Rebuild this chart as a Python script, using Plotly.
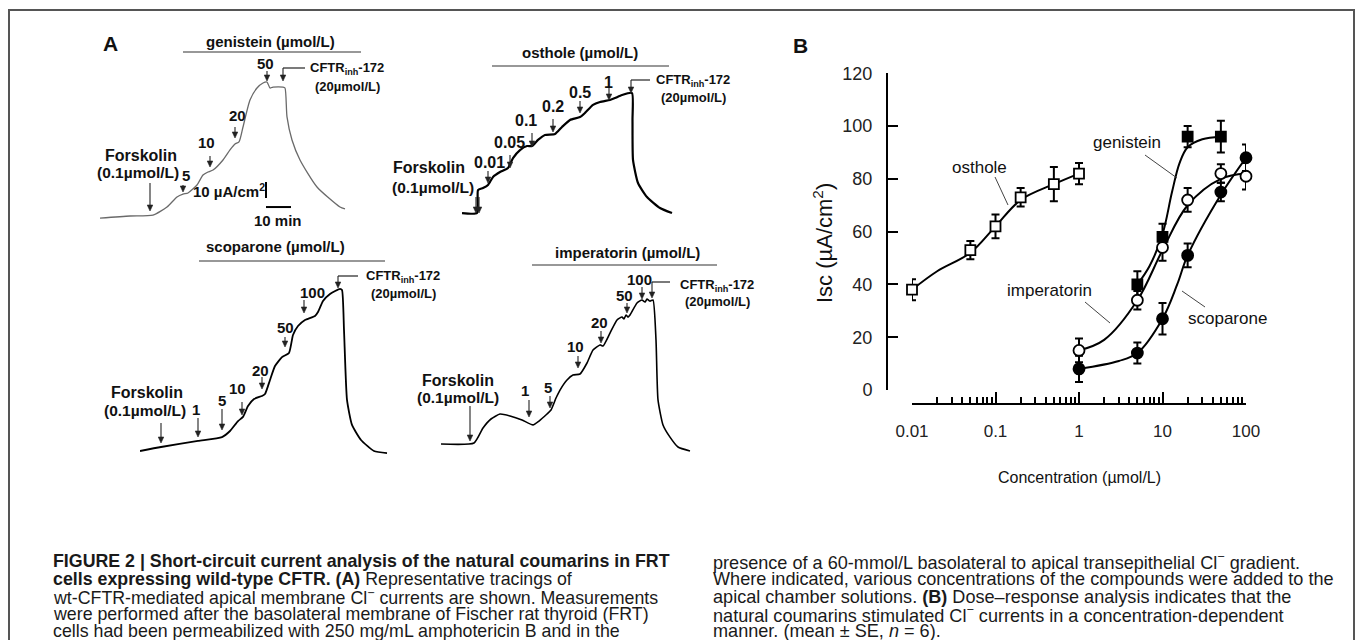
import plotly.graph_objects as go

W, H = 1356, 640

# ---------------- Panel A: Isc tracings (time in min, current in uA/cm2) ----------------
gen_t = [0, 12, 21.2, 26.8, 30.8, 33.2, 35.2, 38.8, 41.2, 43.2, 45.2, 49.2, 52, 54, 55.6, 57.2, 60, 62.8,
         65.2, 66.8, 68, 69.2, 73.2, 74, 74.8, 76.8, 80, 86.8, 96, 98]
gen_i = [1.2, 2.5, 3.1, 8.1, 14.4, 16.2, 16.9, 21.9, 28.1, 30, 31.2, 37.5, 43.8, 47.5, 48.8, 58.1, 75, 82.5,
         85.6, 86.2, 82.5, 83.1, 83.1, 82.5, 64.4, 50, 37.5, 20.6, 8.1, 6.9]

ost_t = [0, 6, 6.4, 8.4, 10.4, 12.4, 15.2, 18.4, 20.4, 23.2, 26, 28, 30.4, 33.2, 37.2, 40, 43.2, 47.2, 49.2,
         52.4, 55.2, 59.2, 61.2, 64, 68, 68.2, 68.4, 70.4, 74, 79.2, 84]
ost_i = [1.2, 1.2, 15.6, 16.9, 18.8, 23.8, 26.9, 29.4, 35.6, 40.6, 43.1, 43.1, 46.9, 50, 50.6, 55, 59.4, 61.2,
         63.8, 68.8, 70.6, 71.9, 73.1, 75, 76.2, 59.4, 34.4, 20, 11.2, 4.4, 1.2]

sco_t = [0, 8.4, 23.2, 32.8, 36, 39.2, 41.2, 43.2, 45.6, 48.8, 50, 52, 54, 56.8, 59.6, 61.2, 63.2, 66, 70,
         71.2, 73.2, 76, 80, 80.8, 81.6, 82.8, 84.8, 88.4, 93.6, 98.8]
sco_i = [2.5, 5, 8.8, 11.2, 15, 21.2, 23.8, 30.6, 35, 36.9, 38.1, 46.9, 55.6, 61.2, 63.8, 75, 80.6, 84.4, 86.9,
         89.4, 96.2, 100.6, 103.8, 103.1, 78.1, 34.4, 18.8, 9.4, 2.5, 1.2]

imp_t = [0, 13.2, 16.8, 20, 23.6, 27.6, 32.4, 36.8, 39.2, 42.4, 44, 46, 47.6, 50.4, 52.8, 55.6, 58.4, 60.8,
         63.6, 64.8, 67.6, 70.4, 72.4, 73.2, 74, 74.8, 75.6, 78.4, 80.4, 81.6, 82.4, 83.6, 84.8, 86, 86.8,
         88.8, 91.6, 94.8, 99.6]
imp_i = [6.9, 7.5, 16.9, 22.5, 25.6, 24.4, 21.9, 18.8, 21.2, 25.6, 28.1, 35.6, 40.6, 46.9, 50, 50.6, 57.5,
         65.6, 68.8, 68.1, 76.2, 84.4, 86.2, 85, 87.5, 86.2, 87.5, 95, 96.9, 95.6, 97.5, 96.2, 96.9, 71.9,
         34.4, 18.8, 11.2, 5, 2.5]

# addition times (min) : forskolin, doses..., CFTRinh-172
gen_add = [20, 33.2, 44, 54, 66.8, 73.2]
gen_doses = ["5", "10", "20", "50"]
ost_add = [5.6, 10.4, 19.2, 28, 36.4, 47.2, 58.8, 67.6]
ost_doses = ["0.01", "0.05", "0.1", "0.2", "0.5", "1"]
sco_add = [8.4, 23.2, 32.8, 40.8, 48.8, 58, 65.6, 79.2]
sco_doses = ["1", "5", "10", "20", "50", "100"]
imp_add = [11.6, 35.2, 43.6, 54.8, 64, 74.4, 80.4, 84.4]
imp_doses = ["1", "5", "10", "20", "50", "100"]

scale_current = 10   # uA/cm2
scale_time = 10      # min

# ---------------- Panel B: dose-response ----------------
ost_c = [0.01, 0.05, 0.1, 0.2, 0.5, 1]
ost_y = [38, 53, 62, 73, 78, 82]
ost_e = [4, 3.5, 4.5, 3.5, 6.5, 4]
gen_c = [5, 10, 20, 50]
gen_y = [40, 58, 96, 96]
gen_e = [5, 5, 4, 6]
imp_c = [1, 5, 10, 20, 50, 100]
imp_y = [15, 34, 54, 72, 82, 81]
imp_e = [4.5, 3.5, 5, 4.5, 3.5, 5]
sco_c = [1, 5, 10, 20, 50, 100]
sco_y = [8, 14, 27, 51, 75, 88]
sco_e = [5, 4, 6, 4.5, 3.5, 5]

# fitted curves
ost_fit_c = [0.01, 0.02, 0.05, 0.1, 0.2, 0.5, 1]
ost_fit_y = [38, 45, 52, 62, 72, 78, 82]
gen_fit_c = [5, 7, 10, 13, 16, 20, 30, 50]
gen_fit_y = [40, 47, 59, 75, 86, 92, 95, 96]
imp_fit_c = [1, 2, 5, 10, 20, 50, 100]
imp_fit_y = [15, 19, 34, 53, 70, 80, 82]
sco_fit_c = [1, 3, 5, 10, 15, 20, 50, 100]
sco_fit_y = [8, 11, 14, 27, 40, 51, 74, 88]

x_ticks = [0.01, 0.1, 1, 10, 100]
x_ticktext = ["0.01", "0.1", "1", "10", "100"]
y_ticks = [0, 20, 40, 60, 80, 100, 120]

FONT = "Arial, Liberation Sans, sans-serif"
CAP_FONT = "Liberation Sans, Arial, sans-serif"


def px(x):
    return x / W


def py(y):
    return 1 - y / H


fig = go.Figure()
ann = []
shapes = []


def txt(s, x, y, size, bold=False, xanchor="center", family=FONT, color="#111", angle=0):
    if bold:
        s = "<b>" + s + "</b>"
    ann.append(dict(text=s, x=px(x), y=py(y), xref="paper", yref="paper", showarrow=False,
                    xanchor=xanchor, yanchor="middle", textangle=angle,
                    font=dict(family=family, size=size, color=color)))


def arrow(ax, t, y_tail, y_tip, col="#222"):
    # shaft
    shapes.append(dict(type="line", xref="x" + ax, yref="paper", x0=t, x1=t, y0=py(y_tail), y1=py(y_tip - 3),
                       line=dict(color=col, width=1.1)))
    # head (x half-width 1.1 min = 2.75 px)
    path = "M {a},{b} L {c},{b} L {d},{e} Z".format(a=t - 1.1, b=py(y_tip - 6), c=t + 1.1, d=t, e=py(y_tip))
    shapes.append(dict(type="path", xref="x" + ax, yref="paper", path=path, fillcolor=col,
                       line=dict(color=col, width=0.6)))


def pline(x0, y0, x1, y1, w=1.2, c="#333"):
    shapes.append(dict(type="line", xref="paper", yref="paper", x0=px(x0), y0=py(y0), x1=px(x1), y1=py(y1),
                       line=dict(color=c, width=w)))


# ----- panel A axes (hidden) : x0 px, baseline px, current range -----
panels = {"2": (100, 220, 100), "3": (462, 215, 100), "4": (140, 455, 125), "5": (441, 455, 125)}
layout_axes = {}
for k, (x0, y0, R) in panels.items():
    layout_axes["xaxis" + k] = dict(domain=[px(x0), px(x0 + 250)], range=[0, 100], visible=False,
                                    anchor="y" + k, fixedrange=True, automargin=False, showgrid=False)
    layout_axes["yaxis" + k] = dict(domain=[py(y0), py(y0 - 1.6 * R)], range=[0, R], visible=False,
                                    anchor="x" + k, fixedrange=True, automargin=False, showgrid=False)

fig.add_trace(go.Scatter(x=gen_t, y=gen_i, xaxis="x2", yaxis="y2", mode="lines",
                         line=dict(color="#6a6a6a", width=1.3, shape="spline", smoothing=0.6), hoverinfo="skip"))
fig.add_trace(go.Scatter(x=ost_t, y=ost_i, xaxis="x3", yaxis="y3", mode="lines",
                         line=dict(color="#000", width=2.2, shape="spline", smoothing=0.5), hoverinfo="skip"))
fig.add_trace(go.Scatter(x=sco_t, y=sco_i, xaxis="x4", yaxis="y4", mode="lines",
                         line=dict(color="#000", width=1.8, shape="spline", smoothing=0.5), hoverinfo="skip"))
fig.add_trace(go.Scatter(x=imp_t, y=imp_i, xaxis="x5", yaxis="y5", mode="lines",
                         line=dict(color="#000", width=1.6, shape="spline", smoothing=0.5), hoverinfo="skip"))

# scale bars (genistein panel), in data units
shapes.append(dict(type="line", xref="x2", yref="y2", x0=66.4, x1=66.4, y0=13.75, y1=13.75 + scale_current,
                   line=dict(color="#000", width=2)))
shapes.append(dict(type="line", xref="x2", yref="y2", x0=66.4, x1=66.4 + scale_time, y0=8.1, y1=8.1,
                   line=dict(color="#000", width=2)))

# ---- genistein panel ----
txt("A", 110, 44, 21, bold=True)
txt("genistein (µmol/L)", 270, 41, 15, bold=True)
pline(183, 52, 361, 52)
txt("Forskolin", 141, 155, 16, bold=True)
txt("(0.1µmol/L)", 138, 173, 15.5, bold=True)
arrow("2", gen_add[0], 183, 211)
gpos = [(186, 175, 185, 192), (207, 143, 156, 167), (237, 115, 127, 138), (265, 64, 71, 81)]
for lbl, t, (lx, ly, a0, a1) in zip(gen_doses, gen_add[1:5], gpos):
    txt(lbl, lx, ly, 15, bold=True)
    arrow("2", t, a0, a1)
pline(283, 68, 305, 68, w=1.2, c="#222")
arrow("2", gen_add[5], 68, 81)
txt("CFTR<sub>inh</sub>-172", 347, 69, 13, bold=True)
txt("(20µmol/L)", 347, 86, 13, bold=True)
txt("10 µA/cm<sup>2</sup>", 229, 190, 15, bold=True)
txt("10 min", 278, 220, 15, bold=True)

# ---- osthole panel ----
txt("osthole (µmol/L)", 580, 53, 15, bold=True)
pline(492, 66, 669, 66)
txt("Forskolin", 429, 167, 16, bold=True)
txt("(0.1µmol/L)", 433, 187, 15.5, bold=True)
arrow("3", ost_add[0], 197, 213)
arrow("3", ost_add[0] + 1.2, 197, 213)
opos = [(489, 163, 171, 183), (510, 143, 155, 168), (526, 120, 133, 147), (553, 106, 119, 132),
        (580, 92, 101, 113), (608, 82, 88, 100)]
for lbl, t, (lx, ly, a0, a1) in zip(ost_doses, ost_add[1:7], opos):
    txt(lbl, lx, ly, 16, bold=True)
    arrow("3", t, a0, a1)
pline(631, 80, 650, 80, w=1.2, c="#222")
arrow("3", ost_add[7], 80, 93)
txt("CFTR<sub>inh</sub>-172", 693, 80, 13, bold=True)
txt("(20µmol/L)", 693, 98, 13, bold=True)

# ---- scoparone panel ----
txt("scoparone (µmol/L)", 275, 246, 15, bold=True)
pline(199, 261, 385, 261)
txt("Forskolin", 147, 392, 16, bold=True)
txt("(0.1µmol/L)", 145, 410, 15.5, bold=True)
arrow("4", sco_add[0], 423, 443)
spos = [(196, 409, 418, 437), (222, 400, 409, 430), (237, 388, 402, 415), (260, 370, 377, 389),
        (285, 327, 337, 347), (312, 292, 300, 313)]
for lbl, t, (lx, ly, a0, a1) in zip(sco_doses, sco_add[1:7], spos):
    txt(lbl, lx, ly, 15, bold=True)
    arrow("4", t, a0, a1)
pline(338, 276, 358, 276, w=1.2, c="#222")
arrow("4", sco_add[7], 276, 288)
txt("CFTR<sub>inh</sub>-172", 403, 276, 13, bold=True)
txt("(20µmol/L)", 403, 293, 13, bold=True)

# ---- imperatorin panel ----
txt("imperatorin (µmol/L)", 627, 253, 15, bold=True)
pline(532, 265, 717, 265)
txt("Forskolin", 458, 380, 16, bold=True)
txt("(0.1µmol/L)", 458, 397, 15.5, bold=True)
arrow("5", imp_add[0], 406, 441)
ipos = [(525, 390, 400, 417), (548, 387, 396, 408), (575, 346, 356, 368), (599, 322, 331, 343),
        (624, 295, 303, 313), (639, 279, 287, 299)]
for lbl, t, (lx, ly, a0, a1) in zip(imp_doses, imp_add[1:7], ipos):
    txt(lbl, lx, ly, 15, bold=True)
    arrow("5", t, a0, a1)
pline(652, 282, 670, 282, w=1.2, c="#222")
arrow("5", imp_add[7], 282, 298)
txt("CFTR<sub>inh</sub>-172", 717, 285, 13, bold=True)
txt("(20µmol/L)", 717, 301, 13, bold=True)

# ---------------- Panel B traces ----------------
for fc, fy in [(ost_fit_c, ost_fit_y), (gen_fit_c, gen_fit_y), (imp_fit_c, imp_fit_y), (sco_fit_c, sco_fit_y)]:
    fig.add_trace(go.Scatter(x=fc, y=fy, mode="lines", line=dict(color="#000", width=2, shape="spline", smoothing=1.0),
                             cliponaxis=False, hoverinfo="skip"))

series = [
    (ost_c, ost_y, ost_e, "square", "white"),
    (gen_c, gen_y, gen_e, "square", "black"),
    (imp_c, imp_y, imp_e, "circle", "white"),
    (sco_c, sco_y, sco_e, "circle", "black"),
]
for c, y, e, sym, fill in series:
    fig.add_trace(go.Scatter(
        x=c, y=y, mode="markers", cliponaxis=False,
        error_y=dict(type="data", array=e, visible=True, color="#000", thickness=2, width=4),
        marker=dict(symbol=sym, size=10 if sym == "square" else 11, color=fill, line=dict(color="#000", width=1.8)),
        hoverinfo="skip"))

txt("B", 800, 45, 21, bold=True)
txt("osthole", 979, 167, 17)
pline(995, 177, 1008, 205, w=1, c="#444")
txt("genistein", 1127, 143, 17)
pline(1145, 155, 1177, 178, w=1, c="#444")
txt("imperatorin", 1049, 290, 17)
pline(1085, 302, 1110, 323, w=1, c="#444")
txt("scoparone", 1227, 318, 17)
pline(1205, 307, 1182, 291, w=1, c="#444")
txt("Isc (µA/cm<sup>2</sup>)", 823, 243, 22, angle=-90)
txt("Concentration (µmol/L)", 1079, 477, 16)

minor_vals = [m * 10 ** e for e in range(-2, 2) for m in range(2, 10)]

# ---------------- Caption ----------------
left_lines = [
    "<b>FIGURE 2 | Short-circuit current analysis of the natural coumarins in FRT</b>",
    "<b>cells expressing wild-type CFTR. (A)</b> Representative tracings of",
    "wt-CFTR-mediated apical membrane Cl<sup>−</sup> currents are shown. Measurements",
    "were performed after the basolateral membrane of Fischer rat thyroid (FRT)",
    "cells had been permeabilized with 250 mg/mL amphotericin B and in the",
]
right_lines = [
    "presence of a 60-mmol/L basolateral to apical transepithelial Cl<sup>−</sup> gradient.",
    "Where indicated, various concentrations of the compounds were added to the",
    "apical chamber solutions. <b>(B)</b> Dose–response analysis indicates that the",
    "natural coumarins stimulated Cl<sup>−</sup> currents in a concentration-dependent",
    "manner. (mean ± SE, <i>n</i> = 6).",
]
line_y = [561, 579, 597, 614, 631]
for s, yy in zip(left_lines, line_y):
    txt(s, 51, yy, 17.8, xanchor="left", family=CAP_FONT, color="#1a1a1a")
for s, yy in zip(right_lines, line_y):
    txt(s, 711, yy, 18.1, xanchor="left", family=CAP_FONT, color="#1a1a1a")

# border
shapes.append(dict(type="rect", xref="paper", yref="paper", x0=px(9), y0=py(700), x1=px(1354), y1=py(10),
                   line=dict(color="#555", width=2), fillcolor="rgba(0,0,0,0)", layer="below"))

fig.update_layout(
    template="none",
    width=W, height=H, autosize=False, margin=dict(l=0, r=0, t=0, b=0, pad=0, autoexpand=False),
    paper_bgcolor="white", plot_bgcolor="rgba(0,0,0,0)", showlegend=False,
    font=dict(family=FONT, color="#111"),
    xaxis=dict(type="log", domain=[px(912), px(1246)], range=[-2, 2], anchor="free", position=py(404),
               showline=True, linecolor="#000", linewidth=2, ticks="inside", ticklen=11, tickwidth=2,
               tickcolor="#000", tickvals=x_ticks, ticktext=x_ticktext, tickfont=dict(size=17, color="#222"),
               ticklabelstandoff=12, showgrid=False, zeroline=False, fixedrange=True, automargin=False,
               minor=dict(tickvals=minor_vals, ticks="inside", ticklen=6, tickwidth=1.5, tickcolor="#000",
                          showgrid=False)),
    yaxis=dict(domain=[py(390), py(73.3)], range=[0, 120], anchor="free", position=px(887),
               showline=True, linecolor="#000", linewidth=2, ticks="inside", ticklen=10, tickwidth=2,
               tickcolor="#000", tickvals=y_ticks, tickfont=dict(size=18, color="#222"),
               ticklabelstandoff=10, showgrid=False, zeroline=False, fixedrange=True, automargin=False),
    annotations=ann, shapes=shapes,
    **layout_axes,
)

fig.write_html("out.html", config={"displayModeBar": False},
               post_script="document.body.style.margin='0';")
